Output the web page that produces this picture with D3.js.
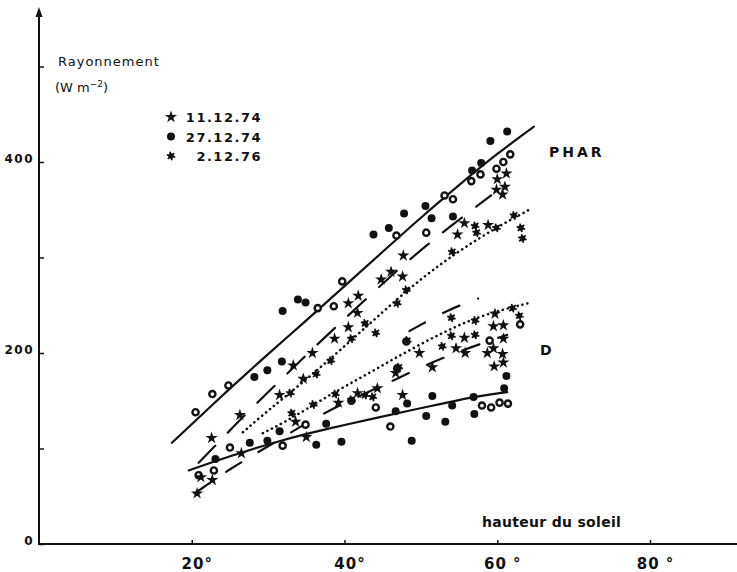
<!DOCTYPE html>
<html>
<head>
<meta charset="utf-8">
<script src="https://cdn.jsdelivr.net/npm/d3@7"></script>
<style>
  body { margin: 0; background: #fff; }
  svg { display: block; }
  text { font-family: 'DejaVu Sans', sans-serif; fill: #111; }
</style>
</head>
<body>
<svg width="737" height="572"></svg>
<script>
// tick values and labels
let xTicks = [20, 40, 60, 80]
let xTickLabels = ['20°', '40°', '60 °', '80 °']
let yTicks = [0, 100, 200, 300, 400, 500]
let yTickLabels = ['0', '', '200', '', '400', '']

// legend
let legendDates = ['11.12.74', '27.12.74', '2.12.76']

// measured points [hauteur du soleil (deg), rayonnement (W m-2)]
let stars1112 = [
  // PHAR
  [22.6, 111], [26.3, 135], [31.5, 156], [34.6, 173], [33.3, 187], [35.8, 200],
  [38.7, 215], [40.5, 227], [41.7, 242], [40.5, 252], [41.8, 260], [44.8, 277],
  [46.1, 285], [47.6, 280], [47.7, 302], [54.8, 324], [55.7, 336], [58.8, 334],
  [59.9, 371], [60.7, 366], [61.0, 374], [60.0, 382], [61.2, 388],
  // D
  [20.7, 53], [21.2, 70], [22.7, 67], [26.5, 95], [35.0, 112], [33.6, 128],
  [39.2, 148], [41.7, 158], [44.3, 163], [47.6, 156], [46.7, 179], [49.8, 200],
  [51.5, 185], [54.6, 205], [55.8, 200], [55.7, 216], [58.7, 200], [59.5, 205],
  [60.7, 199], [59.6, 186], [60.8, 190], [60.8, 215], [59.5, 228], [60.8, 229],
  [59.7, 241]
]

let dots2712 = [
  // PHAR
  [28.2, 175], [29.9, 182], [31.8, 191], [31.9, 244], [33.9, 256], [34.9, 253],
  [43.8, 324], [45.8, 331], [47.8, 346], [50.6, 354], [51.4, 341], [54.2, 343],
  [56.7, 391], [57.9, 399], [59.1, 422], [61.3, 432],
  // D
  [23.1, 89], [27.6, 106], [29.9, 108], [31.5, 118], [36.3, 104], [37.6, 126],
  [39.6, 107], [46.7, 139], [48.2, 147], [48.8, 108], [50.7, 134], [51.5, 155],
  [53.2, 128], [54.1, 145], [57.0, 136], [56.9, 154], [61.2, 176], [60.9, 163]
]

// hollow circles (not in legend)
let rings = [
  [20.5, 138], [22.7, 157], [24.8, 166], [36.5, 247], [38.6, 249], [39.7, 275],
  [46.8, 323], [50.7, 326], [53.1, 365], [54.2, 361], [56.6, 380], [57.8, 387],
  [59.9, 393], [60.8, 400], [61.7, 408],
  [20.9, 72], [22.9, 77], [25.0, 101], [31.9, 103], [34.9, 125], [40.9, 150],
  [46.0, 123], [58.0, 145], [59.2, 143], [60.3, 148], [61.4, 147], [63.0, 230],
  [59.0, 213], [48.1, 212], [46.9, 184], [44.1, 143]
]

let asterisks0212 = [
  // PHAR
  [32.9, 158], [36.3, 178], [38.2, 192], [40.9, 215], [42.7, 231], [44.1, 221],
  [46.9, 252], [48.1, 266], [54.1, 306], [57.1, 333], [57.3, 326], [59.9, 331],
  [62.2, 344], [63.1, 331], [63.3, 320],
  // D
  [33.1, 137], [35.9, 146], [38.8, 157], [40.9, 151], [42.7, 156], [43.7, 154],
  [47.1, 185], [48.2, 213], [52.8, 207], [54.0, 237], [57.1, 234], [54.0, 218],
  [57.1, 219], [62.0, 247], [62.9, 239]
]

// fitted curves
let pharSolid = [[17.4, 106], [25, 163], [30, 199], [35, 234], [40, 270], [45, 306], [50, 342], [55, 376], [60, 409], [64.8, 437]]
let pharDashed = [[20.9, 85], [22.5, 98], [26.9, 135], [30.9, 166], [35, 198], [39.1, 229], [43.7, 263], [48.2, 296], [53.7, 332], [59.2, 365]]
let pharDotted = [[26.7, 117], [30, 140], [35, 172], [40, 207], [45, 243], [50, 278], [55, 307], [60, 332], [64.2, 350]]
let dSolid = [[19.6, 77], [25, 92], [31.8, 109], [38, 121], [44.6, 133], [50.5, 143], [56.7, 154], [61.3, 159]]
let dDashed = [[20.4, 53], [25, 79], [30, 102], [35, 127], [40, 148], [45, 166], [50, 185], [55, 202], [61.3, 219]]
let dDashedUpper = [[48.5, 223], [53.7, 246], [57.5, 257]]
let dDotted = [[29.3, 116], [33, 131], [38, 156], [43, 178], [48, 201], [53, 222], [58, 240], [64, 252]]

let svg = d3.select('svg')
let x = d3.scaleLinear().domain([0, 80]).range([39, 650])
let y = d3.scaleLinear().domain([0, 400]).range([544, 162])

// axes
let xAxis = svg.append('g')
  .attr('transform', 'translate(0,' + y(0) + ')')
  .call(d3.axisBottom(x)
    .tickValues(xTicks)
    .tickSizeInner(-4)
    .tickSizeOuter(0)
    .tickPadding(14)
    .tickFormat((d, i) => xTickLabels[i]))
xAxis.select('.domain').remove()
xAxis.selectAll('line').attr('stroke', '#111').attr('stroke-width', 1.5)
xAxis.selectAll('text')
  .attr('dx', 5)
  .style('font-size', '15px')
  .style('font-weight', 'bold')
  .style('letter-spacing', '1px')

let yAxis = svg.append('g')
  .attr('transform', 'translate(' + x(0) + ',0)')
  .call(d3.axisLeft(y)
    .tickValues(yTicks)
    .tickSizeInner(-5)
    .tickSizeOuter(0)
    .tickPadding(5)
    .tickFormat((d, i) => yTickLabels[i]))
yAxis.select('.domain').remove()
yAxis.selectAll('line').attr('stroke', '#111').attr('stroke-width', 1.5)
yAxis.selectAll('text')
  .attr('dy', '0')
  .style('font-size', '12px')
  .style('font-weight', 'bold')
  .style('letter-spacing', '1.5px')

svg.append('line')
  .attr('x1', x(0)).attr('x2', 737)
  .attr('y1', y(0)).attr('y2', y(0))
  .attr('stroke', '#111').attr('stroke-width', 2)
svg.append('line')
  .attr('x1', x(0)).attr('x2', x(0))
  .attr('y1', y(0) + 1).attr('y2', 12)
  .attr('stroke', '#111').attr('stroke-width', 2)
svg.append('path')
  .attr('d', d3.line()([[x(0) - 3.5, 17], [x(0), 7], [x(0) + 3.5, 17]]) + 'Z')
  .attr('fill', '#111')

// labels
svg.append('text').attr('x', 58).attr('y', 66)
  .style('font-size', '13px').style('letter-spacing', '1px')
  .text('Rayonnement')
let unit = svg.append('text').attr('x', 55).attr('y', 92)
  .style('font-size', '13px')
unit.append('tspan').text('(W m')
unit.append('tspan').attr('dy', -5).style('font-size', '9px').text('−2')
unit.append('tspan').attr('dy', 5).text(')')

svg.append('text').attr('x', 549).attr('y', 157)
  .style('font-size', '14px').style('font-weight', 'bold').style('letter-spacing', '3px')
  .text('PHAR')
svg.append('text').attr('x', 540).attr('y', 355)
  .style('font-size', '14px').style('font-weight', 'bold')
  .text('D')
svg.append('text').attr('x', 482).attr('y', 527)
  .style('font-size', '14px').style('font-weight', 'bold').style('letter-spacing', '0.3px')
  .text('hauteur du soleil')

// curves
let line = d3.line()
  .x(d => x(d[0]))
  .y(d => y(d[1]))
  .curve(d3.curveBasis)

function drawCurve (pts, dash, w) {
  svg.append('path')
    .attr('d', line(pts))
    .attr('fill', 'none')
    .attr('stroke', '#111')
    .attr('stroke-width', w || 2.2)
    .attr('stroke-linecap', 'round')
    .attr('stroke-dasharray', dash)
}
drawCurve(pharSolid, null)
drawCurve(dSolid, null)
drawCurve(pharDashed, '24,18')
drawCurve(dDashed, '18,20')
drawCurve(dDashedUpper, '18,20')
drawCurve(pharDotted, '0.1,5', 2.6)
drawCurve(dDotted, '0.1,5', 2.6)

// markers
let star = d3.symbol().type(d3.symbolStar).size(46)

function drawStar (g, px, py) {
  g.append('path')
    .attr('d', star())
    .attr('transform', 'translate(' + px + ',' + py + ')')
    .attr('fill', '#111')
}
function drawDot (g, px, py) {
  g.append('circle').attr('cx', px).attr('cy', py).attr('r', 4).attr('fill', '#111')
}
function drawRing (g, px, py) {
  g.append('circle').attr('cx', px).attr('cy', py).attr('r', 3.1)
    .attr('fill', '#fff').attr('stroke', '#111').attr('stroke-width', 2.4)
}
function drawAsterisk (g, px, py) {
  let a = g.append('g').attr('transform', 'translate(' + px + ',' + py + ')')
  a.append('circle').attr('r', 2.8).attr('fill', '#111')
  d3.range(6).forEach(function (k) {
    let t = k * Math.PI / 3 + 0.3
    a.append('line')
      .attr('x1', 0).attr('y1', 0)
      .attr('x2', 4.4 * Math.cos(t)).attr('y2', 4.4 * Math.sin(t))
      .attr('stroke', '#111').attr('stroke-width', 1.7)
  })
}

let marks = svg.append('g')
rings.forEach(d => drawRing(marks, x(d[0]), y(d[1])))
dots2712.forEach(d => drawDot(marks, x(d[0]), y(d[1])))
asterisks0212.forEach(d => drawAsterisk(marks, x(d[0]), y(d[1])))
stars1112.forEach(d => drawStar(marks, x(d[0]), y(d[1])))

// legend
let legend = svg.append('g')
let legendDraw = [drawStar, drawDot, drawAsterisk]
legendDates.forEach(function (t, i) {
  let ly = 117 + i * 19.5
  legendDraw[i](legend, 171, ly)
  legend.append('text')
    .attr('x', 262).attr('y', ly + 5)
    .attr('text-anchor', 'end')
    .style('font-size', '13px')
    .style('font-weight', 'bold')
    .style('letter-spacing', '1.5px')
    .text(t)
})
</script>
</body>
</html>
